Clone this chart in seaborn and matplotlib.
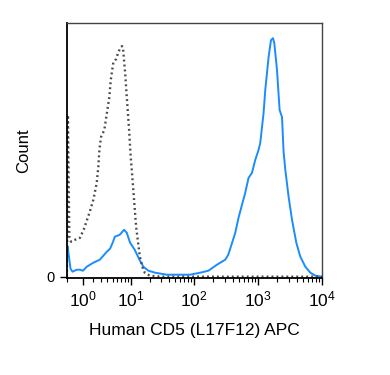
import numpy as np
import matplotlib
matplotlib.use('Agg')
import matplotlib.pyplot as plt
import seaborn as sns

# APC intensity (linear units) and event counts
iso_x = [-0.40, -0.31, -0.19, -0.04, 0.31, 0.75, 1.12, 1.42, 1.73, 2.09,
         2.50, 2.70, 2.84, 3.07, 3.55, 3.99, 4.39, 4.65, 5.16, 5.74,
         6.28, 6.89, 7.24, 7.52, 8.10, 8.64, 9.42, 10.0, 10.8, 12.2,
         14.0, 15.8, 16.8, 20.1, 30, 100, 1000, 10000]
iso_y = [0, 162, 40, 35, 37, 39, 48, 57, 66, 77,
         94, 110, 127, 140, 147, 165, 180, 197, 215, 218,
         225, 230, 231, 228, 205, 180, 147, 120, 94, 50,
         20, 7, 4, 1, 0, 0, 0, 0]

cd5_x = [-0.41, -0.34, -0.22, -0.085, 0.088, 0.45, 0.75, 1.03, 1.39, 2.09,
         2.89, 3.40, 3.94, 4.52, 5.10, 5.45, 6.62, 7.81, 8.64, 9.77,
         11.6, 13.8, 15.9, 19.1, 24.4, 37.3, 86.5, 124, 167, 227,
         255, 306, 341, 366, 439, 494, 559, 629, 709, 801,
         903, 1017, 1081, 1218, 1295, 1459, 1591, 1711, 1793, 1977,
         2171, 2366, 2507, 2667, 3003, 3396, 3966, 4581, 5489, 6573,
         7873, 10000]
cd5_y = [15, 30, 20, 8, 5, 7, 7, 6, 10, 14,
         17, 21, 25, 28, 35, 40, 42, 47, 44, 34,
         27, 17, 10, 6, 4, 2, 2, 4, 6, 12,
         14, 17, 22, 28, 44, 59, 72, 84, 99, 104,
         117, 127, 134, 164, 187, 220, 237, 239, 234, 207,
         167, 160, 125, 107, 80, 57, 34, 20, 10, 4,
         1, 0]

major_ticks = [1, 10, 100, 1000, 10000]
major_labels = ['$10^{0}$', '$10^{1}$', '$10^{2}$', '$10^{3}$', '$10^{4}$']

sns.set_style('ticks')
plt.rcParams['font.family'] = ['Liberation Sans', 'DejaVu Sans']
plt.rcParams['mathtext.fontset'] = 'custom'
plt.rcParams['mathtext.rm'] = 'Liberation Sans'
plt.rcParams['mathtext.it'] = 'Liberation Sans'
for key in ['text.color', 'axes.labelcolor', 'xtick.color', 'ytick.color']:
    plt.rcParams[key] = 'black'


# biexponential-like display (arcsinh)
def fwd(x):
    return np.arcsinh(np.asarray(x, dtype=float) / 2.4) / np.log(10)


def inv(y):
    return 2.4 * np.sinh(np.asarray(y, dtype=float) * np.log(10))


fig = plt.figure(figsize=(3.9, 3.75), dpi=100)
ax = fig.add_axes([0.171, 0.2587, 0.6546, 0.6813])
ax.set_xscale('function', functions=(fwd, inv))

sns.lineplot(x=cd5_x, y=cd5_y, ax=ax, color='#1a8cff', linewidth=1.4,
             sort=False, estimator=None)
sns.lineplot(x=iso_x, y=iso_y, ax=ax, color='#4a4a4a', linewidth=1.7,
             linestyle=(0, (0.8, 1.3)), sort=False, estimator=None)

xmin = -0.417
ax.set_xlim(xmin, 10000)
ax.set_ylim(-1.3, 254.7)

ax.set_xticks(major_ticks)
ax.set_xticklabels(major_labels)
minor = [xmin] + [k * 10 ** d for d in range(4) for k in range(2, 10)]
ax.set_xticks(minor, minor=True)
ax.set_yticks([0])
ax.set_yticklabels(['0'])

ax.tick_params(axis='x', which='major', length=5, width=1, labelsize=12.5, pad=3)
ax.tick_params(axis='x', which='minor', length=3, width=0.8)
ax.tick_params(axis='y', length=5, width=1, labelsize=10.5, pad=4)

for s in ['left', 'bottom']:
    ax.spines[s].set_linewidth(1.3)
    ax.spines[s].set_color('black')
for s in ['top', 'right']:
    ax.spines[s].set_linewidth(1.0)
    ax.spines[s].set_color('#444444')

ax.set_xlabel('Human CD5 (L17F12) APC', fontsize=12.5, labelpad=10)
ax.set_ylabel('Count', fontsize=12, labelpad=11)

fig.savefig('out.png', dpi=100)
